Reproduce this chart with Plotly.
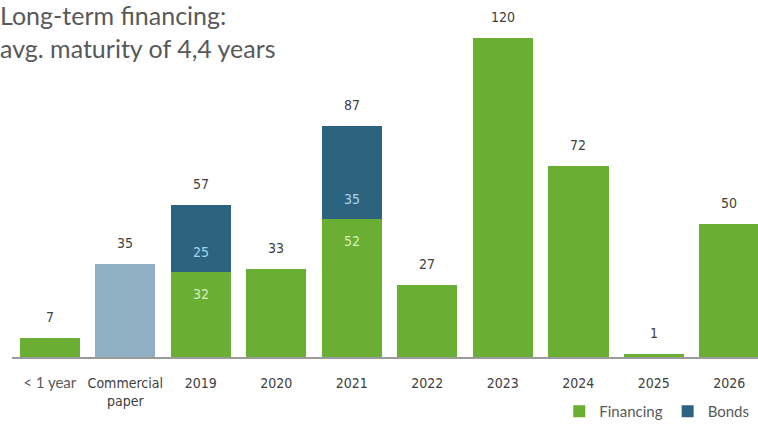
import plotly.graph_objects as go

categories = ["< 1 year", "Commercial paper", "2019", "2020", "2021", "2022", "2023", "2024", "2025", "2026"]
tick_labels = ["<span style=\"font-family:Lato, 'Open Sans', sans-serif;color:#595959;font-size:15px\">&lt; 1 year</span>",
               "Commercial<br>paper", "2019", "2020", "2021", "2022", "2023", "2024", "2025", "2026"]
financing = [7, None, 32, 33, 52, 27, 120, 72, 1, 50]
commercial_paper = [None, 35, None, None, None, None, None, None, None, None]
bonds = [None, None, 25, None, 35, None, None, None, None, None]
totals = [7, 35, 57, 33, 87, 27, 120, 72, 1, 50]

GREEN = "#6aae33"
BLUE = "#2c6480"
CP = "#8fb0c3"
COND = "'DejaVu Sans Condensed', 'Liberation Sans Narrow', 'Roboto Condensed', Roboto, sans-serif"
CAL = "Lato, 'Open Sans', sans-serif"

fig = go.Figure()
fig.add_trace(go.Bar(x=categories, y=financing, name="Financing", marker_color=GREEN, marker_line_width=0))
fig.add_trace(go.Bar(x=categories, y=commercial_paper, name="Commercial paper", marker_color=CP,
                     showlegend=False, marker_line_width=0))
fig.add_trace(go.Bar(x=categories, y=bonds, name="Bonds", marker_color=BLUE, marker_line_width=0))

for i, t in enumerate(totals):
    fig.add_annotation(x=i, y=t, text=str(t), showarrow=False, yanchor="bottom", yshift=11,
                       font=dict(family=COND, size=14, color="#404040"))
for i, (f, b) in enumerate(zip(financing, bonds)):
    if b is not None:
        fig.add_annotation(x=i, y=f, text=str(f), showarrow=False, yanchor="middle", yshift=-22,
                           font=dict(family=COND, size=14, color="#d6efbf"))
        fig.add_annotation(x=i, y=f, text=str(b), showarrow=False, yanchor="middle", yshift=20,
                           font=dict(family=COND, size=14, color="#a9d3e6"))

fig.add_annotation(text="Long-term financing:<br>avg. maturity of 4,4 years", xref="paper", yref="paper",
                   x=0, y=1, xanchor="left", yanchor="top", showarrow=False, align="left",
                   font=dict(family=CAL, size=25, color="#595959"), xshift=-14, yshift=12)

fig.update_layout(
    width=758, height=428, barmode="stack", bargap=0.2,
    margin=dict(l=12, r=0, t=10, b=70),
    plot_bgcolor="white", paper_bgcolor="white",
    legend=dict(orientation="h", x=0.995, xanchor="right", y=-0.11, yanchor="top",
                font=dict(family=CAL, size=15, color="#595959"),
                traceorder="normal", bgcolor="rgba(0,0,0,0)"),
    xaxis=dict(type="category", tickmode="array", tickvals=categories, ticktext=tick_labels, range=[-0.5, 9.38],
               showline=True, linecolor="#9a9a9a", linewidth=1.5, ticks="", ticklabelstandoff=12,
               tickfont=dict(family=COND, size=14, color="#404040"), showgrid=False),
    yaxis=dict(range=[0, 130.5], visible=False, showgrid=False),
)
fig.write_html("out.html")
